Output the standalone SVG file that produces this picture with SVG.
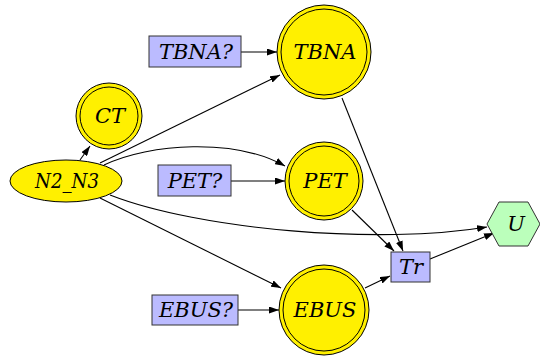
<svg xmlns="http://www.w3.org/2000/svg" width="540" height="356" viewBox="0 0 540 356">
<style>
text{font-size:21px;fill:#000;text-anchor:middle;dominant-baseline:central}
.y{fill:#fff000;stroke:#000;stroke-width:1}
.yi{fill:none;stroke:#000;stroke-width:1}
.b{fill:#bbbbff;stroke:#333;stroke-width:1}
.g{fill:#bbffbb;stroke:#333;stroke-width:1}
.e{fill:none;stroke:#000;stroke-width:1.1;marker-end:url(#a)}
</style>
<defs>
<marker id="a" viewBox="0 0 10 7" refX="10" refY="3.5" markerWidth="10" markerHeight="7" markerUnits="userSpaceOnUse" orient="auto">
<path d="M0,0 L10,3.5 L0,7 z" fill="#000"/>
</marker>
</defs>
<g id="edges">
<path class="e" d="M80,160 L90,146"/>
<path class="e" d="M100,163 L280,75"/>
<path class="e" d="M104,165 C150,143 235,138 285,166"/>
<path class="e" d="M110,195 C200,230 380,245 487,227"/>
<path class="e" d="M100,198 L281,288"/>
<path class="e" d="M241,52 L277,52"/>
<path class="e" d="M231,181 L285,181"/>
<path class="e" d="M238,310 L279,310"/>
<path class="e" d="M342,98 L403,251"/>
<path class="e" d="M352,210 L394,251"/>
<path class="e" d="M365,288 L390,276"/>
<path class="e" d="M430,259 L494,233"/>
</g>
<g id="CT">
<circle class="y" cx="109" cy="116" r="33"/>
<circle class="yi" cx="109" cy="116" r="29"/>
<text x="110" y="116" font-family="DejaVu Serif" font-style="italic">CT</text>
</g>
<g id="N2_N3">
<ellipse class="y" cx="66" cy="181" rx="56" ry="21"/>
<text x="67" y="181" font-family="DejaVu Serif" font-style="italic" textLength="64" lengthAdjust="spacingAndGlyphs">N2_N3</text>
</g>
<g id="TBNA_q">
<rect class="b" x="149" y="36" width="92" height="31"/>
<text x="196" y="51.5" font-family="DejaVu Serif" font-style="italic">TBNA?</text>
</g>
<g id="TBNA">
<circle class="y" cx="324" cy="52" r="47"/>
<circle class="yi" cx="324" cy="52" r="43"/>
<text x="325" y="52" font-family="DejaVu Serif" font-style="italic">TBNA</text>
</g>
<g id="PET_q">
<rect class="b" x="158" y="165" width="73" height="31"/>
<text x="195" y="180.5" font-family="DejaVu Serif" font-style="italic">PET?</text>
</g>
<g id="PET">
<circle class="y" cx="324" cy="181" r="39"/>
<circle class="yi" cx="324" cy="181" r="35"/>
<text x="325" y="181" font-family="DejaVu Serif" font-style="italic">PET</text>
</g>
<g id="EBUS_q">
<rect class="b" x="152" y="295" width="86" height="30"/>
<text x="196" y="310" font-family="DejaVu Serif" font-style="italic">EBUS?</text>
</g>
<g id="EBUS">
<circle class="y" cx="324" cy="310" r="45"/>
<circle class="yi" cx="324" cy="310" r="41"/>
<text x="325" y="310" font-family="DejaVu Serif" font-style="italic">EBUS</text>
</g>
<g id="Tr">
<rect class="b" x="391" y="252" width="39" height="30"/>
<text x="411" y="267" font-family="DejaVu Serif" font-style="italic">Tr</text>
</g>
<g id="U">
<polygon class="g" points="487,224 499,202 528,202 540,224 528,246 499,246"/>
<text x="516" y="224" font-family="DejaVu Serif" font-style="italic">U</text>
</g>
</svg>
